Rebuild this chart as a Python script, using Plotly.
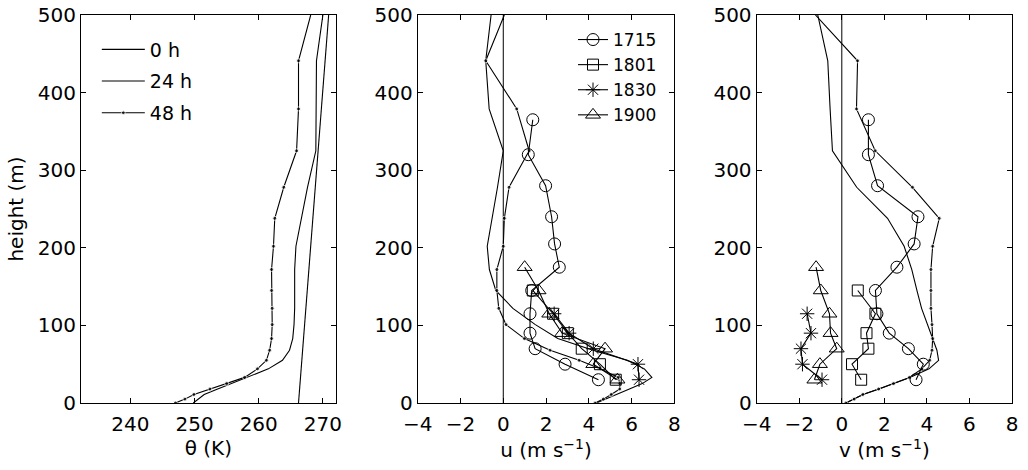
import plotly.graph_objects as go

# ---------------- data ----------------
# model levels (m)
H = [0, 5, 11, 18, 25, 33, 44, 55, 68, 83, 101, 122, 145, 172, 202, 238, 278, 325, 379, 441, 500]

# potential temperature (K)
h_0h = [0, 500]
theta_0h = [266.2, 270.9]
theta_24h = [249.8, 250.5, 251.5, 253.6, 255.8, 258.2, 261.5, 263.7, 264.8, 265.3, 265.5,
             265.6, 265.6, 265.6, 265.8, 266.6, 267.6, 268.9, 268.9, 269.0, 270.0]
theta_48h = [247.0, 248.5, 249.9, 252.4, 255.0, 257.8, 259.8, 261.2, 261.7, 262.0, 262.1,
             262.1, 262.0, 262.0, 262.3, 262.5, 263.9, 265.9, 266.2, 266.2, 268.1]

# u wind (m/s)
u_24h = [4.35, 4.8, 5.3, 5.9, 6.5, 6.95, 6.6, 5.8, 4.2, 2.55, 1.5, 0.45, -0.35, -0.65,
         -0.75, -0.52, -0.27, 0.0, -0.66, -0.82, -0.57]
u_48h = [4.29, 4.68, 5.05, 5.45, 5.45, 5.38, 4.53, 3.55, 2.19, 0.99, 0.13, -0.21, -0.30,
         -0.30, 0.0, 0.05, 0.27, 1.21, 0.63, -0.82, 0.05]

# v wind (m/s)
v_24h = [0.2, 0.6, 1.0, 1.75, 2.45, 3.2, 4.1, 4.55, 4.47, 4.27, 4.0, 3.75, 3.53, 3.29,
         2.93, 2.15, 0.7, -0.44, -0.55, -0.66, -1.13]
v_48h = [0.19, 0.58, 0.99, 1.73, 2.43, 3.18, 3.76, 4.13, 4.24, 4.27, 4.24, 4.19, 4.19,
         4.19, 4.27, 4.58, 3.32, 1.57, 0.69, 0.74, -1.24]

# observations
h1715 = [365, 320, 280, 240, 205, 175, 145, 115, 90, 70, 50, 30]
u1715 = [1.38, 1.17, 1.98, 2.26, 2.40, 2.62, 1.33, 1.25, 1.25, 1.49, 2.89, 4.45]
v1715 = [1.25, 1.25, 1.68, 3.58, 3.40, 2.59, 1.58, 1.65, 2.23, 3.13, 3.83, 3.49]

h1801 = [145, 115, 90, 70, 50, 30]
u1801 = [1.38, 2.33, 3.02, 3.67, 4.52, 5.26]
v1801 = [0.75, 1.58, 1.16, 1.25, 0.48, 0.91]

h1830 = [115, 90, 70, 50, 30]
u1830 = [2.38, 3.08, 4.21, 6.30, 6.35]
v1830 = [-1.63, -1.45, -1.92, -1.85, -0.93]

h1900 = [175, 145, 115, 90, 70, 50, 30]
u1900 = [1.00, 1.65, 2.15, 2.75, 4.76, 4.21, 5.34]
v1900 = [-1.21, -0.99, -0.58, -0.53, -0.24, -1.03, -1.29]

x_ticks_theta = [240, 250, 260, 270]
x_ticks_wind = [-4, -2, 0, 2, 4, 6, 8]
y_ticks = [0, 100, 200, 300, 400, 500]

# ---------------- figure ----------------
FONT = "DejaVu Sans, Liberation Sans, Arial, sans-serif"
BLACK = "black"
LW = 1.1

fig = go.Figure()

dot_sizes = [4] * (len(H) - 1) + [0]

def model_traces(xa, ya, x24, x48, x0=None, show=False):
    if x0 is not None:
        fig.add_trace(go.Scatter(x=x0, y=h_0h, mode="lines", name="0 h",
                                 line=dict(color=BLACK, width=LW),
                                 xaxis=xa, yaxis=ya, showlegend=show, legend="legend",
                                 legendgroup="g0"))
    fig.add_trace(go.Scatter(x=x24, y=H, mode="lines", name="24 h",
                             line=dict(color=BLACK, width=LW),
                             xaxis=xa, yaxis=ya, showlegend=show, legend="legend",
                             legendgroup="g24"))
    fig.add_trace(go.Scatter(x=x48, y=H, mode="lines+markers", name="48 h",
                             line=dict(color=BLACK, width=LW),
                             marker=dict(color=BLACK, size=dot_sizes, symbol="circle"),
                             xaxis=xa, yaxis=ya, showlegend=show, legend="legend",
                             legendgroup="g48"))

model_traces("x", "y", theta_24h, theta_48h, x0=theta_0h, show=True)
model_traces("x2", "y2", u_24h, u_48h)
model_traces("x3", "y3", v_24h, v_48h)

obs = [
    ("1715", h1715, u1715, v1715, "circle-open", 12),
    ("1801", h1801, u1801, v1801, "square-open", 11),
    ("1830", h1830, u1830, v1830, "asterisk-open", 12),
    ("1900", h1900, u1900, v1900, "triangle-up-open", 13),
]
for name, hh, uu, vv, sym, sz in obs:
    mk = dict(symbol=sym, size=sz, color=BLACK, line=dict(color=BLACK, width=1))
    fig.add_trace(go.Scatter(x=uu, y=hh, mode="lines+markers", name=name,
                             line=dict(color=BLACK, width=LW), marker=mk,
                             xaxis="x2", yaxis="y2", legend="legend2", showlegend=True))
    fig.add_trace(go.Scatter(x=vv, y=hh, mode="lines+markers", name=name,
                             line=dict(color=BLACK, width=LW), marker=mk,
                             xaxis="x3", yaxis="y3", showlegend=False))

TICKFONT = dict(family=FONT, size=20, color=BLACK)
axis_common = dict(showline=True, linecolor=BLACK, linewidth=1.2, mirror="ticks",
                   ticks="inside", ticklen=5, tickcolor=BLACK, tickwidth=1,
                   showgrid=False, zeroline=False, automargin=False,
                   tickfont=TICKFONT)
TITLEFONT = dict(family=FONT, size=20, color=BLACK)
XLAB = dict(ticklabelstandoff=3)

fig.update_layout(
    width=1028, height=470,
    margin=dict(l=81, r=16, t=15, b=67),
    paper_bgcolor="white", plot_bgcolor="white",
    font=dict(family=FONT, size=18, color=BLACK),
    xaxis=dict(domain=[0, 0.2736], range=[232.3, 272], tickvals=x_ticks_theta,
               title=dict(text="θ (K)", standoff=4, font=TITLEFONT), anchor="y",
               **XLAB, **axis_common),
    xaxis2=dict(domain=[0.3617, 0.6373], range=[-4, 8], tickvals=x_ticks_wind,
                title=dict(text="u (m s<sup>−1</sup>)", standoff=5, font=TITLEFONT),
                anchor="y2", **XLAB, **axis_common),
    xaxis3=dict(domain=[0.7258, 1.0], range=[-4, 8], tickvals=x_ticks_wind,
                title=dict(text="v (m s<sup>−1</sup>)", standoff=5, font=TITLEFONT),
                anchor="y3", **XLAB, **axis_common),
    yaxis=dict(domain=[0, 1], range=[0, 500], tickvals=y_ticks, anchor="x",
               title=dict(text="height (m)", standoff=8, font=TITLEFONT), **axis_common),
    yaxis2=dict(domain=[0, 1], range=[0, 500], tickvals=y_ticks, anchor="x2", **axis_common),
    yaxis3=dict(domain=[0, 1], range=[0, 500], tickvals=y_ticks, anchor="x3", **axis_common),
    legend=dict(x=0.017, y=0.96, xanchor="left", yanchor="top",
                bgcolor="rgba(0,0,0,0)", borderwidth=0, tracegroupgap=4,
                font=dict(family=FONT, size=19, color=BLACK), itemwidth=43),
    legend2=dict(x=(573 - 81) / 931, y=0.982, xanchor="left", yanchor="top",
                 bgcolor="rgba(0,0,0,0)", borderwidth=0,
                 font=dict(family=FONT, size=17, color=BLACK)),
    showlegend=True,
)

# zero reference lines in wind panels
for xr, yr in (("x2", "y2 domain"), ("x3", "y3 domain")):
    fig.add_shape(type="line", xref=xr, yref=yr, x0=0, x1=0, y0=0, y1=1,
                  line=dict(color=BLACK, width=1), layer="below")

# remove the default 8 px page margin so the figure sits at the window origin
fig.write_html("out.html", config={"displayModeBar": False},
               post_script="document.body.style.margin='0';")
